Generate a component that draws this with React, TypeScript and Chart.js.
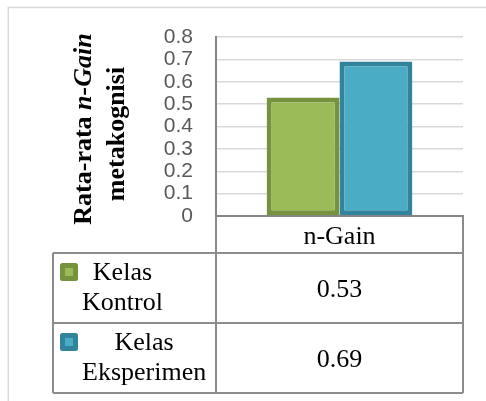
import React, { useEffect, useRef } from 'react';
import { Chart, registerables } from 'chart.js';

Chart.register(...registerables);

// ---- data ----
const categories = ['n-Gain'];
const seriesNames = ['Kelas Kontrol', 'Kelas Eksperimen'];
const kontrolValues = [0.53];
const eksperimenValues = [0.69];
const yMin = 0;
const yMax = 0.8;
const yStep = 0.1;
const yTitleLine1Normal = 'Rata-rata ';
const yTitleLine1Italic = 'n-Gain';
const yTitleLine2 = 'metakognisi';

// ---- styles ----
const fills = ['#9BBB59', '#4BACC6'];
const borders = ['#76923C', '#31849B'];
const SERIF = '"Liberation Serif", "Times New Roman", serif';
const SANS = '"Liberation Sans", Arial, sans-serif';

const excelPlugin = {
  id: 'excelTable',
  beforeDraw(chart: any) {
    const ctx = chart.ctx;
    ctx.save();
    ctx.strokeStyle = '#d9d9d9';
    ctx.lineWidth = 1.5;
    ctx.beginPath();
    ctx.moveTo(8.25, chart.height);
    ctx.lineTo(8.25, 7.5);
    ctx.lineTo(chart.width, 7.5);
    ctx.stroke();
    ctx.restore();
  },
  afterDraw(chart: any) {
    const { ctx, chartArea } = chart;
    const xs = chart.scales.x;
    const L = chartArea.left;
    const R = chartArea.right;
    const B = chartArea.bottom;
    const legendLeft = 53;
    const headerH = 37;
    const rowH = 70;
    const y1 = B + headerH;
    const rowsEnd = y1 + rowH * chart.data.datasets.length;

    ctx.save();
    // table lines
    ctx.strokeStyle = '#8c8c8c';
    ctx.lineWidth = 2;
    ctx.beginPath();
    ctx.moveTo(L, B);
    ctx.lineTo(L, rowsEnd);
    ctx.moveTo(R, B);
    ctx.lineTo(R, rowsEnd);
    ctx.moveTo(legendLeft, y1);
    ctx.lineTo(legendLeft, rowsEnd);
    for (let i = 0; i <= chart.data.datasets.length; i++) {
      const y = y1 + rowH * i;
      ctx.moveTo(legendLeft, y);
      ctx.lineTo(R, y);
    }
    ctx.stroke();

    // header
    ctx.fillStyle = '#000';
    ctx.font = `26px ${SERIF}`;
    ctx.textAlign = 'center';
    ctx.textBaseline = 'alphabetic';
    const labels = chart.data.labels as string[];
    labels.forEach((lab, ci) => {
      const cx = xs.getPixelForValue(ci);
      ctx.fillText(lab, cx, B + 28);
    });

    // rows
    chart.data.datasets.forEach((ds: any, i: number) => {
      const top = y1 + rowH * i;
      labels.forEach((_lab, ci) => {
        const cx = xs.getPixelForValue(ci);
        ctx.fillStyle = '#000';
        ctx.textAlign = 'center';
        ctx.fillText(String(ds.data[ci]), cx, top + 44);
      });
      // legend key
      const kx = 60;
      const ky = top + 10;
      const ks = 18;
      ctx.fillStyle = ds.borderColor;
      ctx.beginPath();
      (ctx as any).roundRect(kx, ky, ks, ks, 2.5);
      ctx.fill();
      ctx.fillStyle = ds.backgroundColor;
      ctx.fillRect(kx + 5, ky + 5, ks - 10, ks - 10);
      // legend text
      const words = String(ds.label).split(' ');
      ctx.fillStyle = '#000';
      ctx.font = `26px ${SERIF}`;
      const maxW = Math.max(...words.map((w) => ctx.measureText(w).width));
      const blockLeft = 82;
      words.forEach((w, li) => {
        ctx.textAlign = 'center';
        ctx.fillText(w, blockLeft + maxW / 2, top + 27 + li * 30);
      });
    });

    // y-axis title (rotated, mixed style)
    const drawRot = (cx: number, cy: number, parts: { text: string; font: string }[]) => {
      ctx.save();
      ctx.translate(cx, cy);
      ctx.rotate(-Math.PI / 2);
      ctx.textAlign = 'left';
      ctx.textBaseline = 'alphabetic';
      ctx.fillStyle = '#000';
      let total = 0;
      const widths = parts.map((p) => {
        ctx.font = p.font;
        const w = ctx.measureText(p.text).width;
        total += w;
        return w;
      });
      let x = -total / 2;
      parts.forEach((p, k) => {
        ctx.font = p.font;
        ctx.fillText(p.text, x, 0);
        x += widths[k];
      });
      ctx.restore();
    };
    drawRot(91, 129, [
      { text: yTitleLine1Normal, font: `bold 26px ${SERIF}` },
      { text: yTitleLine1Italic, font: `italic bold 26px ${SERIF}` },
    ]);
    drawRot(124, 134, [{ text: yTitleLine2, font: `bold 26px ${SERIF}` }]);
    ctx.restore();
  },
};

export default function App() {
  const ref = useRef<HTMLCanvasElement | null>(null);
  useEffect(() => {
    if (!ref.current) return;
    const chart = new Chart(ref.current, {
      type: 'bar',
      data: {
        labels: categories,
        datasets: [
          {
            label: seriesNames[0],
            data: kontrolValues,
            backgroundColor: fills[0],
            borderColor: borders[0],
            borderWidth: 5,
            borderSkipped: false,
          },
          {
            label: seriesNames[1],
            data: eksperimenValues,
            backgroundColor: fills[1],
            borderColor: borders[1],
            borderWidth: 5,
            borderSkipped: false,
          },
        ],
      },
      options: {
        responsive: false,
        animation: false,
        devicePixelRatio: 1,
        datasets: { bar: { categoryPercentage: 0.59, barPercentage: 1 } },
        layout: { padding: { left: 0, top: 37, right: 23, bottom: 185 } },
        plugins: { legend: { display: false }, tooltip: { enabled: false } },
        scales: {
          x: {
            display: true,
            grid: { display: false },
            ticks: { display: false },
            border: { display: true, color: '#868686', width: 2 },
            afterFit: (s: any) => {
              s.height = 0;
            },
          },
          y: {
            min: yMin,
            max: yMax,
            ticks: {
              stepSize: yStep,
              autoSkip: false,
              padding: 23,
              color: '#595959',
              font: { family: SANS, size: 21 },
              callback: (v: any) => (Number(v) === 0 ? '0' : Number(v).toFixed(1)),
            },
            grid: { color: '#d9d9d9', lineWidth: 1.5, drawTicks: false },
            border: { display: true, color: '#868686', width: 2 },
            afterFit: (s: any) => {
              s.width = 216;
            },
          },
        },
      },
      plugins: [excelPlugin],
    } as any);
    return () => chart.destroy();
  }, []);
  return (
    <div style={{ position: 'absolute', left: 0, top: 0, width: 486, height: 401, background: '#fff' }}>
      <canvas ref={ref} width={486} height={401} />
    </div>
  );
}
